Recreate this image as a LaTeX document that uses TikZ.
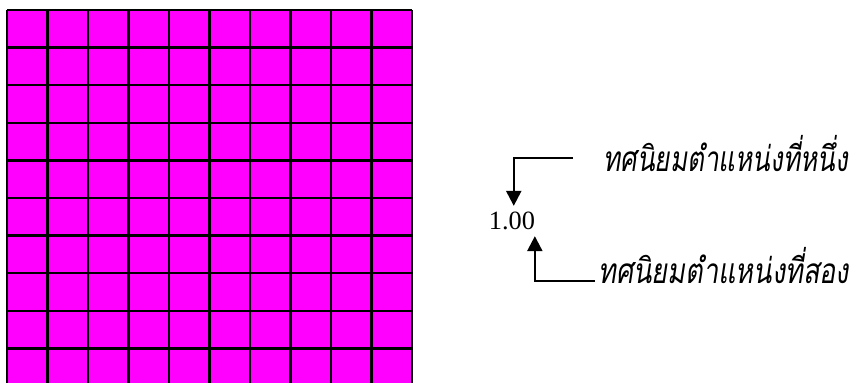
\documentclass[tikz,border=0pt]{standalone}
\usepackage{fontspec}
\setmainfont{Liberation Serif}
\newfontfamily\thaifont[Script=Thai,FakeSlant=0.2]{Loma}
\usetikzlibrary{arrows.meta, positioning, calc}
\definecolor{gridpink}{RGB}{255, 0, 255}

\begin{document}
\begin{tikzpicture}[x=0.02cm, y=-0.02cm, >={Triangle[length=0.3cm, width=0.3cm]}]
  \useasboundingbox (0,0) rectangle (858,382);
  \begin{scope}
    \clip (0,0) rectangle (858,382);
    \fill[gridpink] (7,10) rectangle (412,386);
    \foreach \i in {0,...,10} {
      \draw[line width=1.4pt] (7+40.5*\i,10) -- (7+40.5*\i,386);
      \draw[line width=1.4pt] (7,10+37.6*\i) -- (412,10+37.6*\i);
    }
  \end{scope}

  \node (num) at (512,221) {\fontsize{15}{17}\selectfont 1.00};
  \node[anchor=base west, inner sep=0pt] (first) at (603,171) {\scalebox{0.74}[1]{\fontsize{20}{22}\selectfont\thaifont ทศนิยมตำแหน่งที่หนึ่ง}};
  \node[anchor=base west, inner sep=0pt] (second) at (598,283) {\scalebox{0.77}[1]{\fontsize{20}{22}\selectfont\thaifont ทศนิยมตำแหน่งที่สอง}};

  \coordinate (c1) at (573,158);
  \coordinate (c2) at (595,281);
  \draw[->, line width=1.3pt] (c1) -| ([xshift=1pt]num.north);
  \draw[->, line width=1.3pt] (c2) -| ([xshift=13pt]num.south);
\end{tikzpicture}
\end{document}
